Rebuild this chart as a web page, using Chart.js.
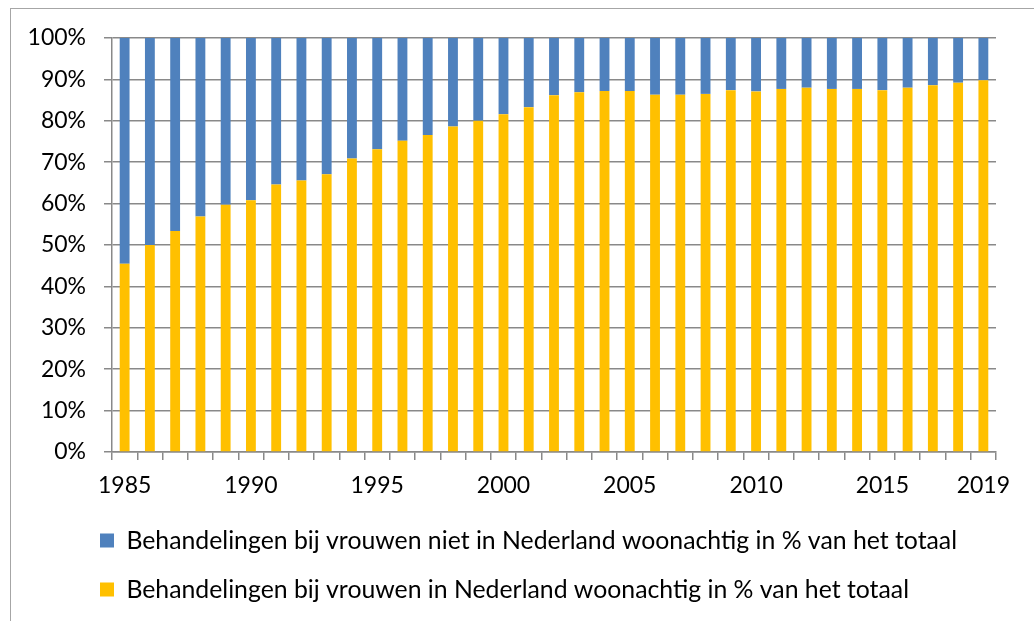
<!DOCTYPE html>
<html>
<head>
<meta charset="utf-8">
<script src="https://cdn.jsdelivr.net/npm/chart.js@4"></script>
<style>
    html, body { margin: 0; padding: 0; background: #fff; }
    #wrap { position: relative; width: 1034px; height: 621px; overflow: hidden; }
    #frame {
        position: absolute; left: 10px; top: 8px; width: 1100px; height: 700px;
        border-left: 1px solid #a6a6a6; border-top: 1px solid #a6a6a6;
    }
    canvas { position: absolute; left: 0; top: 0; }
</style>
</head>
<body>
<div id="wrap">
    <div id="frame"></div>
    <canvas id="chart" width="1034" height="621"></canvas>
</div>
<script>
    // ===== DATA =====
    const years = ['1985', '1986', '1987', '1988', '1989', '1990', '1991', '1992', '1993', '1994',
        '1995', '1996', '1997', '1998', '1999', '2000', '2001', '2002', '2003', '2004',
        '2005', '2006', '2007', '2008', '2009', '2010', '2011', '2012', '2013', '2014',
        '2015', '2016', '2017', '2018', '2019'];
    const shownYears = ['1985', '1990', '1995', '2000', '2005', '2010', '2015', '2019'];

    // % behandelingen bij vrouwen in Nederland woonachtig
    const inNL = [45.5, 50.0, 53.4, 56.9, 59.7, 60.8, 64.6, 65.6, 67.1, 70.9,
        73.1, 75.2, 76.6, 78.6, 80.0, 81.6, 83.3, 86.2, 86.9, 87.2,
        87.2, 86.3, 86.3, 86.5, 87.4, 87.1, 87.7, 88.0, 87.7, 87.7,
        87.4, 88.0, 88.6, 89.2, 89.8];
    // % behandelingen bij vrouwen niet in Nederland woonachtig
    const notInNL = [54.5, 50.0, 46.6, 43.1, 40.3, 39.2, 35.4, 34.4, 32.9, 29.1,
        26.9, 24.8, 23.4, 21.4, 20.0, 18.4, 16.7, 13.8, 13.1, 12.8,
        12.8, 13.7, 13.7, 13.5, 12.6, 12.9, 12.3, 12.0, 12.3, 12.3,
        12.6, 12.0, 11.4, 10.8, 10.2];

    const FONT = 'Lato, "Open Sans", sans-serif';
    const gridGray = '#898989';
    const LEGEND_SIZE = 24.8;

    // legend moet onder de plot beginnen, niet tegen de linkerrand
    const legendShift = {
        id: 'legendShift',
        afterLayout(chart) {
            const lg = chart.legend;
            const dx = 100 - (lg.left + lg.options.labels.padding);
            lg.left += dx;
            lg.right += dx;
        }
    };

    new Chart(document.getElementById('chart').getContext('2d'), {
        type: 'bar',
        data: {
            labels: years,
            datasets: [{
                label: 'Behandelingen bij vrouwen in Nederland woonachtig in % van het totaal',
                data: inNL,
                backgroundColor: '#FFC000',
                barPercentage: 0.39,
                categoryPercentage: 1
            }, {
                label: 'Behandelingen bij vrouwen niet in Nederland woonachtig in % van het totaal',
                data: notInNL,
                backgroundColor: '#4F81BD',
                barPercentage: 0.39,
                categoryPercentage: 1
            }]
        },
        plugins: [legendShift],
        options: {
            responsive: false,
            animation: false,
            layout: { padding: { left: 16, top: 38, right: 38, bottom: 9 } },
            plugins: {
                tooltip: { enabled: false },
                legend: {
                    position: 'bottom',
                    align: 'start',
                    reverse: true,
                    labels: {
                        boxWidth: 14,
                        boxHeight: 14,
                        padding: 49 - LEGEND_SIZE,
                        color: '#000',
                        font: { family: FONT, size: LEGEND_SIZE }
                    }
                }
            },
            scales: {
                x: {
                    stacked: true,
                    offset: true,
                    afterFit: s => { s.height = 52; },
                    grid: { drawOnChartArea: false, drawTicks: true, tickLength: 8, color: gridGray, lineWidth: 1.5, offset: true },
                    border: { display: true, color: gridGray, width: 1.5 },
                    ticks: {
                        autoSkip: false,
                        maxRotation: 0,
                        padding: 12,
                        color: '#000',
                        font: { family: FONT, size: 23 },
                        callback: function(value, index) {
                            const y = years[index];
                            return shownYears.includes(y) ? y : '';
                        }
                    }
                },
                y: {
                    stacked: true,
                    min: 0,
                    max: 100,
                    afterFit: s => { s.width = 96; },
                    grid: { color: gridGray, lineWidth: 1.5, tickLength: 8 },
                    border: { display: true, color: gridGray, width: 1.5 },
                    ticks: {
                        stepSize: 10,
                        padding: 18,
                        color: '#000',
                        font: { family: FONT, size: 23 },
                        callback: v => v + '%'
                    }
                }
            }
        }
    });
</script>
</body>
</html>
